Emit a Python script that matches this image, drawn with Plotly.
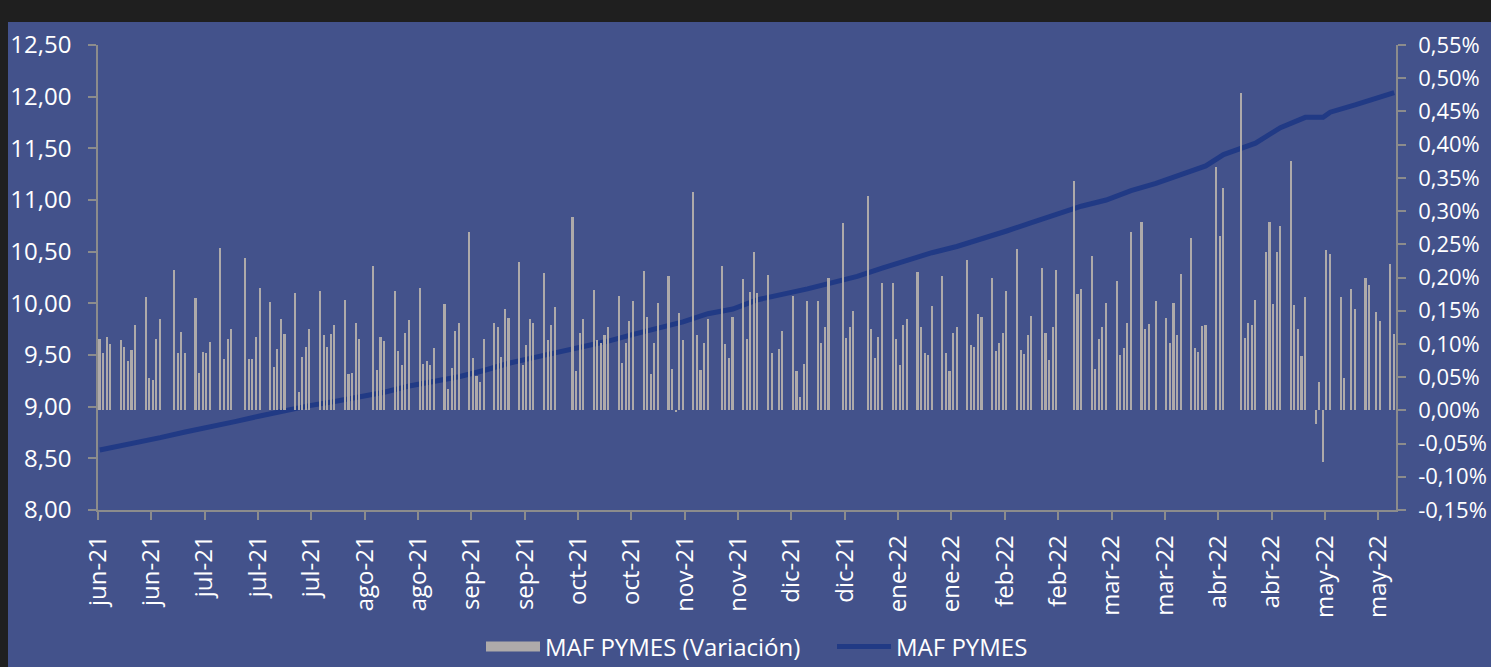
import pandas as pd
import plotly.graph_objects as go

# ---------------- data ----------------
START = "2021-06-01"
END = "2022-05-31"
HOLIDAYS = ["2021-06-21", "2021-07-09", "2021-08-16", "2021-10-08", "2021-10-11",
            "2021-11-22", "2021-12-08", "2021-12-24", "2021-12-31", "2022-02-28",
            "2022-03-01", "2022-03-24", "2022-04-14", "2022-04-15", "2022-05-18",
            "2022-05-25"]

# daily variation (%), one row per week
variacion = [
    0.108, 0.087, 0.111, 0.100,
    0.106, 0.096, 0.074, 0.091, 0.128,
    0.170, 0.049, 0.046, 0.107, 0.137,
    0.211, 0.086, 0.118, 0.086,
    0.169, 0.056, 0.088, 0.086, 0.103,
    0.245, 0.077, 0.108, 0.122,
    0.230, 0.077, 0.078, 0.110, 0.184,
    0.163, 0.065, 0.093, 0.137, 0.115,
    0.176, 0.027, 0.081, 0.096, 0.123,
    0.179, 0.114, 0.095, 0.115, 0.128,
    0.166, 0.054, 0.056, 0.132, 0.107,
    0.218, 0.061, 0.110, 0.104,
    0.180, 0.089, 0.068, 0.117, 0.136,
    0.184, 0.070, 0.074, 0.069, 0.094,
    0.160, 0.032, 0.064, 0.119, 0.131,
    0.269, 0.079, 0.052, 0.043, 0.107,
    0.131, 0.125, 0.080, 0.153, 0.139,
    0.224, 0.068, 0.099, 0.137, 0.132,
    0.207, 0.106, 0.128, 0.156,
    0.291, 0.059, 0.117, 0.137,
    0.181, 0.106, 0.101, 0.113, 0.125,
    0.172, 0.071, 0.101, 0.135, 0.165,
    0.210, 0.141, 0.054, 0.101, 0.162,
    0.202, 0.062, -0.002, 0.147, 0.106,
    0.329, 0.114, 0.061, 0.101, 0.138,
    0.218, 0.100, 0.079, 0.140,
    0.197, 0.107, 0.178, 0.239, 0.176,
    0.204, 0.087, 0.093, 0.120,
    0.172, 0.059, 0.020, 0.070, 0.165,
    0.164, 0.102, 0.125, 0.200,
    0.282, 0.109, 0.126, 0.150,
    0.322, 0.122, 0.079, 0.111, 0.191,
    0.192, 0.107, 0.068, 0.129, 0.137,
    0.209, 0.126, 0.086, 0.083, 0.157,
    0.202, 0.087, 0.060, 0.116, 0.125,
    0.226, 0.099, 0.095, 0.145, 0.141,
    0.200, 0.090, 0.102, 0.117, 0.180,
    0.243, 0.091, 0.085, 0.114, 0.142,
    0.215, 0.117, 0.076, 0.125, 0.211,
    0.346, 0.175, 0.182,
    0.232, 0.062, 0.108, 0.126, 0.162,
    0.194, 0.084, 0.094, 0.132, 0.269,
    0.284, 0.122, 0.130, 0.165,
    0.139, 0.101, 0.161, 0.114, 0.206,
    0.260, 0.094, 0.088, 0.127, 0.128,
    0.367, 0.262, 0.334,
    0.477, 0.109, 0.131, 0.128, 0.166,
    0.238, 0.283, 0.160, 0.239, 0.278,
    0.375, 0.158, 0.123, 0.082, 0.170,
    -0.020, 0.043, -0.077, 0.242, 0.236,
    0.170, 0.049, 0.183, 0.152,
    0.199, 0.189, 0.148, 0.134,
    0.220, 0.115,
]

# index level (weekly readings)
indice_fechas = [
    "2021-06-01", "2021-06-04", "2021-06-11", "2021-06-18", "2021-06-25",
    "2021-07-02", "2021-07-09", "2021-07-16", "2021-07-23", "2021-07-30",
    "2021-08-06", "2021-08-13", "2021-08-20", "2021-08-27", "2021-09-03",
    "2021-09-10", "2021-09-17", "2021-09-24", "2021-10-01", "2021-10-08",
    "2021-10-15", "2021-10-22", "2021-10-29", "2021-11-05", "2021-11-12",
    "2021-11-19", "2021-11-26", "2021-12-03", "2021-12-10", "2021-12-17",
    "2021-12-24", "2021-12-31", "2022-01-07", "2022-01-14", "2022-01-21",
    "2022-01-28", "2022-02-04", "2022-02-11", "2022-02-18", "2022-02-25",
    "2022-03-04", "2022-03-11", "2022-03-18", "2022-03-25", "2022-04-01",
    "2022-04-08", "2022-04-13", "2022-04-22", "2022-04-29", "2022-05-06",
    "2022-05-11", "2022-05-13", "2022-05-20", "2022-05-27", "2022-05-31",
]
indice = [
    8.58, 8.60, 8.645, 8.70, 8.755,
    8.80, 8.855, 8.91, 8.965, 9.01,
    9.05, 9.09, 9.14, 9.20, 9.245,
    9.29, 9.35, 9.42, 9.475, 9.525,
    9.58, 9.635, 9.70, 9.765, 9.82,
    9.90, 9.945, 10.035, 10.085, 10.14,
    10.20, 10.26, 10.34, 10.42, 10.49,
    10.55, 10.62, 10.70, 10.78, 10.86,
    10.94, 11.00, 11.09, 11.16, 11.25,
    11.33, 11.44, 11.55, 11.70, 11.80,
    11.80, 11.85, 11.92, 11.99, 12.04,
]

tick_fechas = ["2021-06-01", "2021-06-16", "2021-07-01", "2021-07-16", "2021-07-31",
               "2021-08-15", "2021-08-30", "2021-09-14", "2021-09-29", "2021-10-14",
               "2021-10-29", "2021-11-13", "2021-11-28", "2021-12-13", "2021-12-28",
               "2022-01-12", "2022-01-27", "2022-02-11", "2022-02-26", "2022-03-13",
               "2022-03-28", "2022-04-12", "2022-04-27", "2022-05-12", "2022-05-27"]
tick_textos = ["jun-21", "jun-21", "jul-21", "jul-21", "jul-21", "ago-21", "ago-21",
               "sep-21", "sep-21", "oct-21", "oct-21", "nov-21", "nov-21", "dic-21",
               "dic-21", "ene-22", "ene-22", "feb-22", "feb-22", "mar-22", "mar-22",
               "abr-22", "abr-22", "may-22", "may-22"]

y2_ticks = [-0.15, -0.10, -0.05, 0.00, 0.05, 0.10, 0.15, 0.20, 0.25, 0.30, 0.35,
            0.40, 0.45, 0.50, 0.55]
y2_textos = ["-0,15%", "-0,10%", "-0,05%", "0,00%", "0,05%", "0,10%", "0,15%",
             "0,20%", "0,25%", "0,30%", "0,35%", "0,40%", "0,45%", "0,50%", "0,55%"]

# ---------------- figure ----------------
fechas = pd.bdate_range(START, END, freq="C", holidays=HOLIDAYS)
DAY_MS = 86400000
half_day = pd.Timedelta(hours=12)

BLUE = "#43528B"
DARK = "#1F1F1F"
AXIS = "#8C8C8C"
BARC = "#AEAAAA"
LINEC = "#213A85"
FONT = "Open Sans"
TXT = "#FFFFFF"
FS = 24

fig = go.Figure()
fig.add_trace(go.Bar(
    x=fechas, y=variacion, name="MAF PYMES (Variación)",
    marker=dict(color=BARC, line=dict(width=0)),
    width=0.45 * DAY_MS, offset=0.275 * DAY_MS,
    yaxis="y2", showlegend=False, legendgroup="var",
))
# legend entry (wide swatch) for the bars
fig.add_trace(go.Scatter(
    x=[None], y=[None], name="MAF PYMES (Variación)", mode="lines",
    line=dict(color=BARC, width=18), yaxis="y2", legendgroup="var",
))
fig.add_trace(go.Scatter(
    x=pd.to_datetime(indice_fechas) + half_day, y=indice, name="MAF PYMES",
    mode="lines", line=dict(color=LINEC, width=5),
    yaxis="y",
))

W, H = 1491, 667
L, R, T, B = 98, 95, 45, 157
pw, ph = W - L - R, H - T - B

fig.update_layout(
    template="none",
    width=W, height=H,
    margin=dict(l=L, r=R, t=T, b=B, pad=0, autoexpand=False),
    paper_bgcolor=DARK,
    plot_bgcolor="rgba(0,0,0,0)",
    separators=",.",
    font=dict(family=FONT, color=TXT, size=FS),
    showlegend=True,
    legend=dict(orientation="h", x=(481 - L) / pw, xanchor="left",
                y=(H - B - 647) / ph, yanchor="middle",
                font=dict(family=FONT, size=24, color=TXT),
                bgcolor="rgba(0,0,0,0)", itemwidth=54, traceorder="normal",
                entrywidth=282, entrywidthmode="pixels"),
    shapes=[dict(type="rect", xref="paper", yref="paper", layer="below",
                 x0=(8 - L) / pw, x1=(W + 5 - L) / pw,
                 y0=(H - B - (H + 5)) / ph, y1=(H - B - 22) / ph,
                 fillcolor=BLUE, line=dict(width=0))],
    xaxis=dict(
        type="date", range=[START, "2022-06-01"], automargin=False,
        tickmode="array", tickvals=tick_fechas, ticktext=tick_textos,
        tickangle=-90, ticks="outside", ticklen=8, tickcolor=AXIS, tickwidth=1.5,
        showline=True, linecolor=AXIS, linewidth=1.5, showgrid=False, zeroline=False,
        tickfont=dict(family=FONT, size=FS, color=TXT), ticklabelstandoff=6,
    ),
    yaxis=dict(
        range=[8, 12.5], dtick=0.5, tick0=8, tickformat=".2f", automargin=False,
        ticks="outside", ticklen=8, tickcolor=AXIS, tickwidth=1.5,
        showline=True, linecolor=AXIS, linewidth=1.5, showgrid=False, zeroline=False,
        tickfont=dict(family=FONT, size=FS, color=TXT), ticklabelstandoff=12,
    ),
    yaxis2=dict(
        range=[-0.15, 0.55], tickmode="array", tickvals=y2_ticks, ticktext=y2_textos,
        overlaying="y", side="right", automargin=False,
        ticks="outside", ticklen=8, tickcolor=AXIS, tickwidth=1.5,
        showline=True, linecolor=AXIS, linewidth=1.5, showgrid=False, zeroline=False,
        tickfont=dict(family=FONT, size=22, color=TXT), ticklabelstandoff=8,
    ),
    bargap=0,
)

fig.write_html(
    "out.html",
    config={"displayModeBar": False},
    post_script="document.body.style.margin='0';document.body.style.overflow='hidden';"
                "document.body.style.background='#1F1F1F';",
)
